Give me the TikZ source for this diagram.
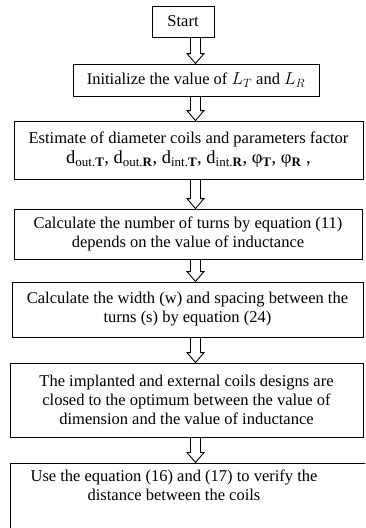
\documentclass[tikz,border=0pt]{standalone}
\usepackage{fontspec}
\setmainfont{Liberation Serif}
\usetikzlibrary{calc}
\newcommand{\flowarrow}[2]{%
  \draw[harrow] ($(ax |- #1.south)+(-5,0)$) -- ($(ax |- #2.north)+(-5,-10)$)
    -- ($(ax |- #2.north)+(-8.5,-10)$) -- (ax |- #2.north)
    -- ($(ax |- #2.north)+(8.5,-10)$) -- ($(ax |- #2.north)+(5,-10)$)
    -- ($(ax |- #1.south)+(5,0)$);}
\begin{document}
\begin{tikzpicture}[x=1pt,y=-1pt,
  box/.style={draw, line width=0.9pt, inner sep=0pt, align=center,
    font=\fontsize{16.5}{19}\selectfont},
  txt/.style={inner sep=0pt, align=center, font=\fontsize{16.5}{19}\selectfont},
  harrow/.style={draw, line width=0.9pt}]
\useasboundingbox (0,0) rectangle (365,528);
\clip (0,0) rectangle (365,528);
\coordinate (ax) at (195.5,0);

\node[box, minimum width=62, minimum height=31] (s) at (183,21.5) {Start};
\node[box, minimum width=246, minimum height=32] (b2) at (196,80)
  {Initialize the value of $L_T$ and $L_R$};
\node[box, minimum width=349, minimum height=58] (b3) at (188.5,150)
  {Estimate of diameter coils and parameters factor\\[1pt]
   {\fontsize{18.5}{20}\selectfont
   d\textsubscript{out.\textbf{T}}, d\textsubscript{out.\textbf{R}},
   d\textsubscript{int.\textbf{T}}, d\textsubscript{int.\textbf{R}},
   φ\textsubscript{\textbf{T}}, φ\textsubscript{\textbf{R}} ,}};
\node[box, minimum width=348, minimum height=50] (b4) at (188,234)
  {Calculate the number of turns by equation (11)\\depends on the value of inductance};
\node[box, minimum width=351, minimum height=55] (b5) at (187.5,309.5)
  {Calculate the width (w) and spacing between the\\turns (s) by equation (24)};
\node[box, minimum width=353, minimum height=74] (b6) at (186.5,400)
  {The implanted and external coils designs are\\closed to the optimum between the value of\\dimension and the value of inductance};
\node[box, minimum width=380, minimum height=100, anchor=north west] (b7) at (10,462.5) {};
\node[txt, anchor=north] (b7t) at (174,470)
  {Use the equation (16) and (17) to verify the\\distance between the coils};

\flowarrow{s}{b2}
\flowarrow{b2}{b3}
\flowarrow{b3}{b4}
\flowarrow{b4}{b5}
\flowarrow{b5}{b6}
\flowarrow{b6}{b7}
\end{tikzpicture}
\end{document}
